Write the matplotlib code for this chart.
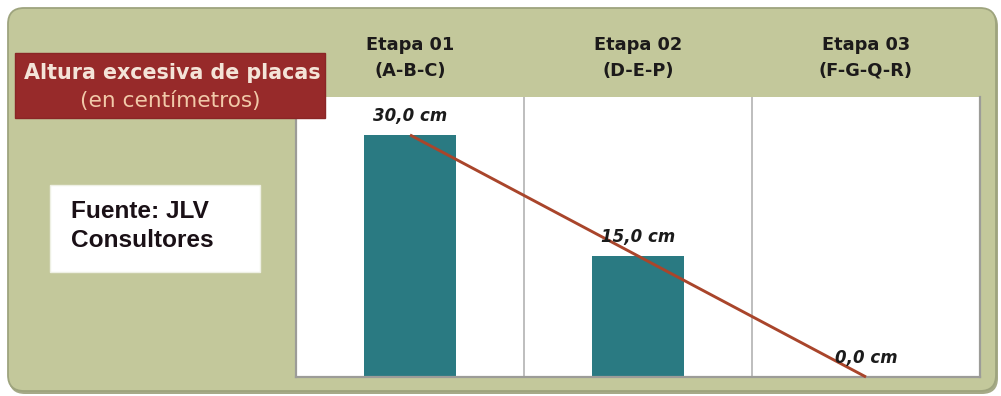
import matplotlib
matplotlib.use("Agg")
import matplotlib.pyplot as plt
from matplotlib.patches import FancyBboxPatch, Rectangle

# --- data -------------------------------------------------------------
stage_names = ["Etapa 01", "Etapa 02", "Etapa 03"]
stage_codes = ["(A-B-C)", "(D-E-P)", "(F-G-Q-R)"]
excess_cm = [30.0, 15.0, 0.0]
value_labels = ["30,0 cm", "15,0 cm", "0,0 cm"]

title_main = "Altura excesiva de placas"
title_sub = "(en centímetros)"
source_lines = ["Fuente: JLV", "Consultores"]

# --- figure (pixel based layout) --------------------------------------
W, H = 1001, 396
fig = plt.figure(figsize=(W / 100, H / 100), dpi=100)
fig.patch.set_facecolor("white")

# background layer: rounded panel and source box
bg = fig.add_axes([0, 0, 1, 1], zorder=0)
bg.set_xlim(0, W)
bg.set_ylim(H, 0)
bg.axis("off")
bg.add_patch(FancyBboxPatch((9, 10), 989, 384,
                            boxstyle="round,pad=0,rounding_size=16",
                            fc="#a6aa88", ec="none"))
bg.add_patch(FancyBboxPatch((8, 8), 988, 383,
                            boxstyle="round,pad=0,rounding_size=16",
                            fc="#c3c89b", ec="#9ea47e", lw=1.3))
bg.add_patch(Rectangle((50, 185), 210, 87, fc="white", ec="#eef0e4", lw=1))
for i, line in enumerate(source_lines):
    bg.text(71, 218 + 29 * i, line, ha="left", va="baseline",
            fontsize=17.6, fontweight="bold", family="Liberation Sans",
            color="#1a1016")

# chart area
left, right, top, bottom = 296, 980, 97, 377
ax = fig.add_axes([left / W, 1 - bottom / H, (right - left) / W, (bottom - top) / H],
                  zorder=1)
ax.set_facecolor("white")
x = list(range(len(excess_cm)))
ax.bar(x, excess_cm, width=0.40, color="#2a7a82", zorder=2)
ax.plot(x, excess_cm, color="#a9452b", lw=2.1, zorder=3, clip_on=False,
        solid_capstyle="butt")
ax.set_xlim(-0.5, len(x) - 0.5)
ax.set_ylim(0, 34.7)
for b in range(len(x) - 1):
    ax.axvline(b + 0.5, color="#b9b9b9", lw=1.3, zorder=1)
ax.set_xticks([])
ax.set_yticks([])
ax.spines["top"].set_visible(False)
for s in ("left", "right", "bottom"):
    ax.spines[s].set_color("#9c9c98")
    ax.spines[s].set_linewidth(1.6)

for xi, v, lbl in zip(x, excess_cm, value_labels):
    ax.annotate(lbl, (xi, v), xytext=(0, 10), textcoords="offset points",
                ha="center", va="baseline", fontsize=12, fontweight="bold",
                style="italic", color="#1b1b1b", zorder=4)

# column headers above the chart area
hdr = ax.get_xaxis_transform()
def axes_y(py):
    return (bottom - py) / (bottom - top)
for xi, name, code in zip(x, stage_names, stage_codes):
    ax.text(xi, axes_y(50), name, transform=hdr, ha="center", va="baseline",
            fontsize=12.8, fontweight="bold", color="#1c1a1a", clip_on=False)
    ax.text(xi, axes_y(76), code, transform=hdr, ha="center", va="baseline",
            fontsize=12.8, fontweight="bold", color="#1c1a1a", clip_on=False)

# title label on top of everything
ov = fig.add_axes([0, 0, 1, 1], zorder=5)
ov.set_xlim(0, W)
ov.set_ylim(H, 0)
ov.axis("off")
ov.patch.set_alpha(0)
ov.add_patch(Rectangle((15, 53), 310, 65, fc="#972a2a", ec="#8a2626", lw=1))
ov.text(172, 79, title_main, ha="center", va="baseline", fontsize=14.9,
        fontweight="bold", color="#f4e4d8")
ov.text(170.5, 107, title_sub, ha="center", va="baseline", fontsize=15.6,
        color="#f1c9a9")

fig.savefig("out.png", dpi=100, facecolor="white")
